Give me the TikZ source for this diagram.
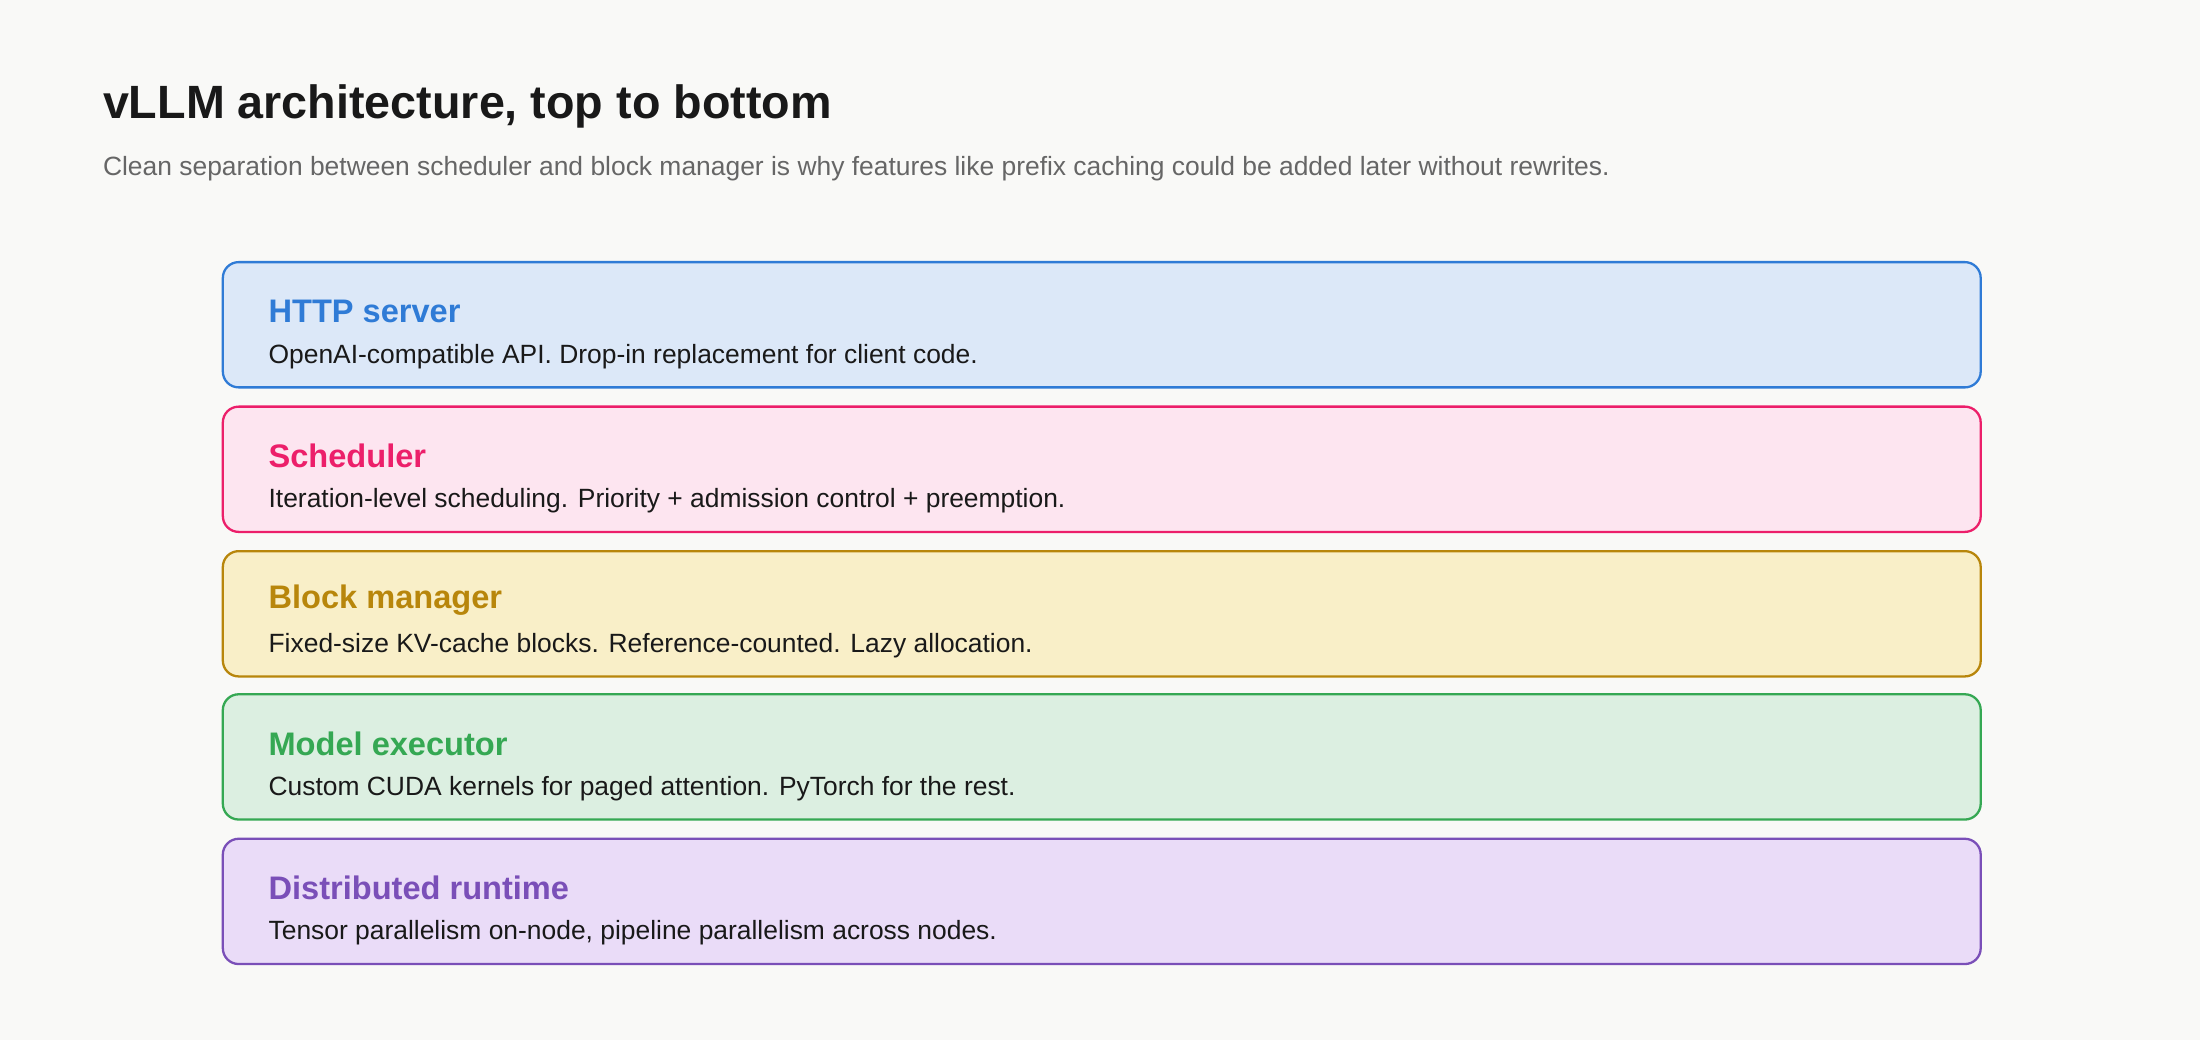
\documentclass[tikz,border=0pt]{standalone}
\usepackage{fontspec}
\setmainfont{Liberation Sans}
\usetikzlibrary{positioning}

\definecolor{bgcol}{HTML}{F9F9F7}
\definecolor{httpline}{HTML}{2F7BD6}\definecolor{httpfill}{HTML}{DCE8F8}
\definecolor{schedline}{HTML}{EC1F6A}\definecolor{schedfill}{HTML}{FDE5F0}
\definecolor{blockline}{HTML}{B8860B}\definecolor{blockfill}{HTML}{F9EFC8}
\definecolor{modelline}{HTML}{35A853}\definecolor{modelfill}{HTML}{DCEFE1}
\definecolor{distline}{HTML}{7A4FB8}\definecolor{distfill}{HTML}{EADCF8}

\tikzset{
    layerbox/.style={draw=#1line,fill=#1fill,line width=1.3pt,rounded corners=9pt,
        minimum width=35.08cm,minimum height=2.5cm,anchor=north west},
    layername/.style={anchor=west,font=\fontsize{18.5}{22}\selectfont\bfseries},
    layertext/.style={anchor=west,font=\fontsize{15}{18}\selectfont,text=black!90}
}

\begin{document}
\begin{tikzpicture}[x=0.028cm,y=-0.028cm]
    \fill[bgcol] (0,0) rectangle (1568,741);
    \useasboundingbox (0,0) rectangle (1568,741);
    \node[anchor=west,font=\fontsize{26.5}{32}\selectfont\bfseries,text=black!90] (title) at (69,76) {vLLM architecture, top to bottom};
    \node[anchor=west,font=\fontsize{15}{18}\selectfont,text=black!60] (subtitle) at (69,120) {Clean separation between scheduler and block manager is why features like prefix caching could be added later without rewrites.};

    \node[layerbox=http] (http) at (158,186) {};
    \node[layername,text=httpline] (httpname) at (187,222) {HTTP server};
    \node[layertext] (httptext) at (187,254) {OpenAI-compatible API. Drop-in replacement for client code.};

    \node[layerbox=sched] (sched) at (158,289) {};
    \node[layername,text=schedline] (schedname) at (187,325) {Scheduler};
    \node[layertext] (schedtext) at (187,357) {Iteration-level scheduling. Priority + admission control + preemption.};

    \node[layerbox=block] (block) at (158,392) {};
    \node[layername,text=blockline] (blockname) at (187,428) {Block manager};
    \node[layertext] (blocktext) at (187,460) {Fixed-size KV-cache blocks. Reference-counted. Lazy allocation.};

    \node[layerbox=model] (model) at (158,494) {};
    \node[layername,text=modelline] (modelname) at (187,530) {Model executor};
    \node[layertext] (modeltext) at (187,562) {Custom CUDA kernels for paged attention. PyTorch for the rest.};

    \node[layerbox=dist] (dist) at (158,597) {};
    \node[layername,text=distline] (distname) at (187,633) {Distributed runtime};
    \node[layertext] (disttext) at (187,665) {Tensor parallelism on-node, pipeline parallelism across nodes.};
\end{tikzpicture}
\end{document}
